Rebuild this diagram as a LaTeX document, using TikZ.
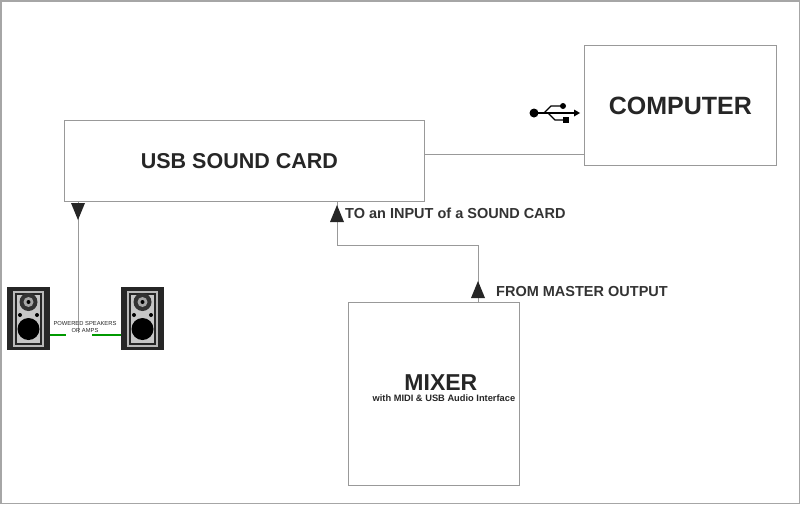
\documentclass[tikz,border=0pt]{standalone}
\usepackage{fontspec}
\setmainfont{Liberation Sans}
\usetikzlibrary{calc}
\tikzset{
  box/.style={draw=gray!80, line width=0.8pt, anchor=north west, inner sep=0pt},
  wire/.style={draw=gray!80, line width=1pt},
  head/.style={fill=black!85},
  lbl/.style={font=\bfseries\fontsize{14.5}{16}\selectfont, text=black!80, anchor=west, inner sep=1pt},
  big/.style={font=\bfseries\fontsize{21}{23}\selectfont, text=black!85},
  spk/.style={fill=black!85}
}
\newcommand{\speaker}[2]{%
  \begin{scope}[shift={(#1,#2)}]
    \fill[black!85] (0,0) rectangle (43,63);
    \fill[gray!55] (6,4) rectangle (37,60);
    \fill[black!85] (8,6) rectangle (35,58);
    \fill[gray!45] (10,8) rectangle (33,56);
    \fill[black!80] (21.5,15) circle (9);
    \fill[gray!70] (21.5,15) circle (5);
    \fill[black] (21.5,15) circle (2);
    \fill[black] (13,28) circle (2); \fill[black] (30,28) circle (2);
    \fill[black] (21.5,42) circle (11);
  \end{scope}}
\begin{document}
\begin{tikzpicture}[x=1pt,y=-1pt]
  \useasboundingbox (0,0) rectangle (800,504);
  \draw[gray!70, line width=1.5pt] (0.75,0.75) rectangle (799.25,503.25);

  % Boxes
  \node[box, minimum width=360pt, minimum height=81pt] (card) at (64,120) {};
  \node[big, font=\bfseries\fontsize{21.5}{23}\selectfont] at ($(card.center)+(-5,0)$) {USB SOUND CARD};
  \node[box, minimum width=192pt, minimum height=120pt] (pc) at (584,45) {};
  \node[big, font=\bfseries\fontsize{25}{27}\selectfont] at ($(pc.center)+(0,0)$) {COMPUTER};
  \node[box, minimum width=171pt, minimum height=183pt] (mix) at (348,302) {};
  \node[big, font=\bfseries\fontsize{23}{25}\selectfont] (mixt) at ($(mix.center)+(7,-11)$) {MIXER};
  \node[font=\bfseries\fontsize{9.3}{10}\selectfont, text=black!85, below=-3pt] at ($(mixt.south)+(3,0)$) {with MIDI \& USB Audio Interface};

  % USB link
  \coordinate (c1) at (424,154);
  \draw[wire] (c1) -- (c1 -| pc.west);
  % USB symbol
  \begin{scope}[shift={(534,113)}]
    \fill[black] (0,0) circle (4.5);
    \draw[black, line width=1.3pt] (0,0) -- (40,0);
    \fill[black] (40,-3.5) -- (46,0) -- (40,3.5) -- cycle;
    \draw[black, line width=1.3pt] (10,0) -- (17,-7) -- (28,-7);
    \fill[black] (29,-7) circle (3);
    \draw[black, line width=1.3pt] (14,0) -- (21,7) -- (30,7);
    \fill[black] (29,4) rectangle (35,10);
  \end{scope}

  % Mixer to sound card
  \coordinate (m1) at (478,245);
  \draw[wire] (mix.north -| m1) -- (m1) -- (m1 -| 337,0) -- (card.south -| 337,0);
  \fill[head] (330,222) -- (344,222) -- (337,205) -- cycle;
  \fill[head] (471,298) -- (485,298) -- (478,281) -- cycle;
  \node[lbl] at (344,213) {TO an INPUT of a SOUND CARD};
  \node[lbl] at (495,292) {FROM MASTER OUTPUT};

  % Speakers
  \coordinate (s1) at (78,333);
  \draw[wire] (card.south -| s1) -- (s1);
  \fill[head] (71,203) -- (85,203) -- (78,220) -- cycle;
  \speaker{7}{287}
  \speaker{121}{287}
  \draw[green!60!black, line width=1.5pt] (50,335) -- (66,335);
  \draw[green!60!black, line width=1.5pt] (92,335) -- (121,335);
  \node[font=\fontsize{5.8}{6.5}\selectfont, align=center, text=black!85, inner sep=0pt] at (85,327) {POWERED SPEAKERS\\OR AMPS};
\end{tikzpicture}
\end{document}
